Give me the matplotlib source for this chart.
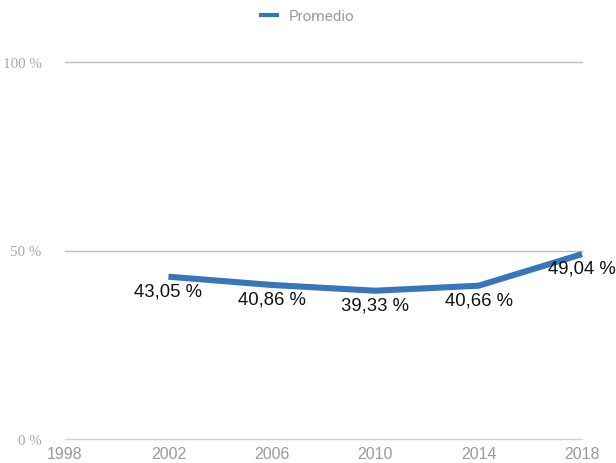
import matplotlib
matplotlib.use("Agg")
import matplotlib.pyplot as plt
from matplotlib.lines import Line2D

years = [2002, 2006, 2010, 2014, 2018]
values = [43.05, 40.86, 39.33, 40.66, 49.04]
labels = ["43,05 %", "40,86 %", "39,33 %", "40,66 %", "49,04 %"]
xticks = [1998, 2002, 2006, 2010, 2014, 2018]
yticks = [0, 50, 100]
ytick_labels = ["0 %", "50 %", "100 %"]
series_name = "Promedio"

W, H = 616, 464
fig = plt.figure(figsize=(W / 100, H / 100), dpi=100)
ax = fig.add_axes([65 / W, (H - 440) / H, (582 - 65) / W, (440 - 63) / H])

blue = "#3876ba"
ax.set_xlim(1998, 2018)
ax.set_ylim(0, 100)
for y in yticks:
    ax.axhline(y, color="#d0d0d0" if y == 0 else "#bdbdbd", lw=1.0, zorder=1,
               clip_on=False)
ax.plot(years, values, color=blue, lw=4.4, solid_capstyle="butt",
        solid_joinstyle="miter", clip_on=False, zorder=3)
for x, v, t in zip(years, values, labels):
    ax.annotate(t, (x, v), xytext=(0, -4), textcoords="offset points",
                ha="center", va="top", fontsize=13.3, color="#111111",
                family="Liberation Sans", zorder=4, annotation_clip=False)

for s in ax.spines.values():
    s.set_visible(False)
ax.set_xticks(xticks)
ax.set_xticklabels([str(x) for x in xticks], family="Liberation Sans",
                   fontsize=11.5, color="#9a9a9a")
ax.set_yticks(yticks)
ax.set_yticklabels(ytick_labels, family="Liberation Serif", fontsize=10.8,
                   color="#a8a8a8")
ax.tick_params(axis="x", length=0, pad=5)
ax.tick_params(axis="y", length=0, pad=17)

handle = Line2D([], [], color=blue, lw=3)
fig.legend([handle], [series_name], loc="center", bbox_to_anchor=(0.5, 1 - 17 / H),
           frameon=False, handlelength=1.0, handletextpad=0.8,
           prop={"family": "Roboto", "size": 11}, labelcolor="#9a9a9a")

fig.savefig("out.png", dpi=100)
